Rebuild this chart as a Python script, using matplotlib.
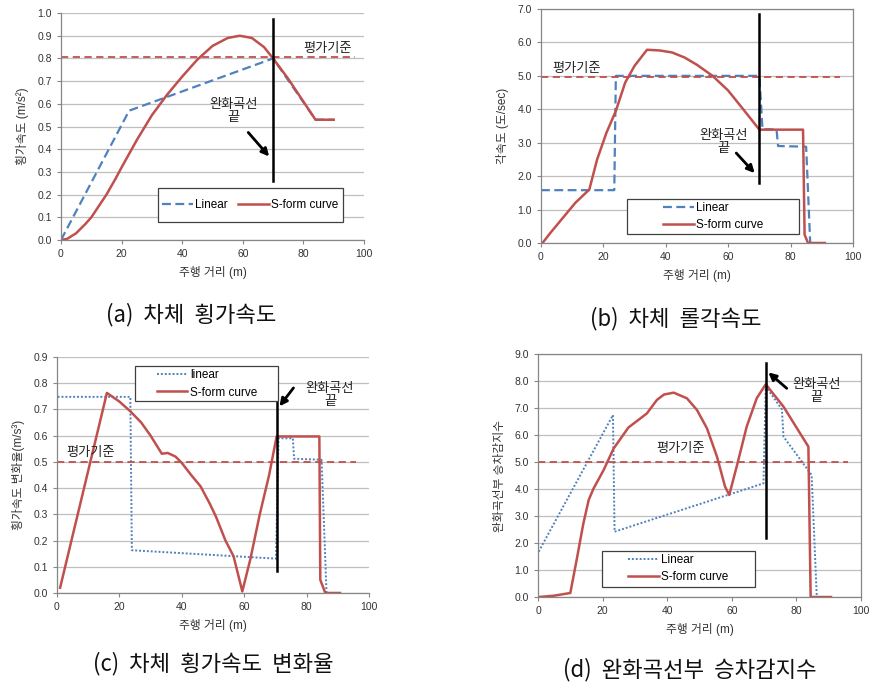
import numpy as np
import matplotlib
matplotlib.use('Agg')
import matplotlib.pyplot as plt
from matplotlib.patches import Rectangle

plt.rcParams['font.family'] = ['Liberation Sans', 'Noto Sans CJK KR', 'DejaVu Sans']
plt.rcParams['axes.unicode_minus'] = False

BLUE = '#4F81BD'
RED = '#C0504D'
GRID = '#BFBFBF'
AXC = '#868686'

# ---- (a) 차체 횡가속도
a_lin_x = [0, 22.5, 70, 84, 90]
a_lin_y = [0.0, 0.57, 0.80, 0.53, 0.53]
a_s_x = [0, 2, 5, 8, 10, 12, 15, 18, 20, 25, 30, 35, 40, 45, 50, 55, 59, 63, 67, 70, 75, 80, 84, 90]
a_s_y = [0.0, 0.005, 0.03, 0.07, 0.10, 0.14, 0.20, 0.27, 0.32, 0.44, 0.55, 0.64, 0.72, 0.795, 0.855, 0.89, 0.90, 0.89, 0.85, 0.80, 0.71, 0.61, 0.53, 0.53]
a_ref = 0.805

# ---- (b) 차체 롤각속도
b_lin_x = [0, 23.5, 24, 70, 71, 75.5, 76, 85, 86.3]
b_lin_y = [1.58, 1.58, 5.0, 5.0, 3.4, 3.4, 2.9, 2.88, 0.0]
b_s_x = [0.5, 3, 7, 11, 15.5, 18, 21, 24, 27, 30, 34, 38, 42, 46, 50, 55, 60, 65, 70, 84, 84.5, 85.6, 91]
b_s_y = [0.0, 0.3, 0.75, 1.2, 1.6, 2.5, 3.3, 3.95, 4.8, 5.3, 5.78, 5.76, 5.7, 5.55, 5.33, 5.0, 4.56, 3.98, 3.39, 3.39, 0.25, 0.0, 0.0]
b_ref = 4.97

# ---- (c) 차체 횡가속도 변화율
c_lin_x = [0.2, 23.5, 24, 70.2, 71, 75.6, 76, 84.8, 86.4]
c_lin_y = [0.748, 0.748, 0.163, 0.131, 0.59, 0.59, 0.512, 0.508, 0.0]
c_s_x = [1.0, 16, 20, 23.5, 27, 30, 33.6, 35.5, 38, 40, 43, 46, 49, 51, 54, 56.6, 59.4, 62, 65, 68, 70.4, 84.1, 84.4, 86, 90.7]
c_s_y = [0.02, 0.763, 0.73, 0.693, 0.65, 0.60, 0.531, 0.534, 0.52, 0.496, 0.45, 0.407, 0.34, 0.29, 0.20, 0.14, 0.006, 0.13, 0.30, 0.45, 0.597, 0.597, 0.05, 0.0, 0.0]
c_ref = 0.50

# ---- (d) 완화곡선부 승차감지수
d_lin_x = [0.2, 23.2, 23.7, 69.8, 70.5, 75.5, 76, 84.7, 86.3]
d_lin_y = [1.68, 6.74, 2.42, 4.21, 7.8, 6.95, 5.94, 4.52, 0.0]
d_s_x = [0.2, 5, 10, 12, 14, 15.7, 17.2, 20.3, 23.4, 28, 33.7, 36.8, 39, 42, 46.1, 49.2, 52.3, 55.4, 57.9, 59.2, 61.5, 64.6, 67.7, 70.5, 76, 83.7, 84.4, 90.7]
d_s_y = [0.0, 0.05, 0.15, 1.4, 2.7, 3.6, 4.02, 4.7, 5.5, 6.28, 6.8, 7.3, 7.5, 7.57, 7.36, 6.93, 6.25, 5.2, 4.09, 3.78, 4.83, 6.31, 7.36, 7.88, 7.05, 5.57, 0.0, 0.0]
d_ref = 5.0

xlabel = '주행 거리 (m)'

fig = plt.figure(figsize=(8.7, 6.86), dpi=100)


def style_axes(ax, ymax, ystep, frame):
    ax.set_xlim(0, 100)
    ax.set_ylim(0, ymax)
    ax.set_xticks(np.arange(0, 101, 20))
    ax.set_yticks(np.arange(0, ymax + 1e-9, ystep))
    ax.set_yticklabels([f'{v:.1f}' for v in np.arange(0, ymax + 1e-9, ystep)])
    ax.yaxis.grid(True, color=GRID, lw=0.9)
    ax.set_axisbelow(True)
    for s in ['left', 'bottom']:
        ax.spines[s].set_color(AXC)
        ax.spines[s].set_linewidth(0.9)
    for s in ['top', 'right']:
        ax.spines[s].set_visible(frame)
        ax.spines[s].set_color(AXC)
        ax.spines[s].set_linewidth(0.9)
    ax.tick_params(axis='both', colors=AXC, labelcolor='#333333', labelsize=7.5,
                   length=3, width=0.8)
    ax.set_xlabel(xlabel, fontsize=8.5, color='#333333', labelpad=5)


def add_end_note(ax, vx, v0, v1, tx, ty, ax0, ay0, ax1, ay1):
    ax.plot([vx, vx], [v0, v1], color='black', lw=1.8, zorder=5)
    ax.text(tx, ty, '완화곡선\n끝', ha='center', va='center', fontsize=9.5,
            linespacing=1.1, color='#222222')
    ax.annotate('', xy=(ax1, ay1), xytext=(ax0, ay0),
                arrowprops=dict(arrowstyle='-|>', color='black', lw=2.0,
                                mutation_scale=11, shrinkA=0, shrinkB=0),
                zorder=6)


def add_legend(ax, x0, x1, y0, y1, ncol):
    # Excel-style legend: wide square box with the entries centred inside
    ax.add_patch(Rectangle((x0, y0), x1 - x0, y1 - y0, transform=ax.transData,
                           facecolor='white', edgecolor='#404040', lw=0.9, zorder=7))
    xl, yl = ax.get_xlim(), ax.get_ylim()
    cx = ((x0 + x1) / 2 - xl[0]) / (xl[1] - xl[0])
    cy = ((y0 + y1) / 2 - yl[0]) / (yl[1] - yl[0])
    leg = ax.legend(loc='center', bbox_to_anchor=(cx, cy), ncol=ncol,
                    fontsize=8.5, handlelength=2.6, frameon=False,
                    columnspacing=0.9, handletextpad=0.2, labelspacing=0.45,
                    borderpad=0.2)
    leg.set_zorder(8)
    return leg


# (a)
ax = fig.add_axes([0.0701, 0.6501, 0.3483, 0.3309])
style_axes(ax, 1.0, 0.1, False)
ax.plot(a_lin_x, a_lin_y, color=BLUE, lw=1.6, ls=(0, (4, 2)), label='Linear')
ax.plot(a_s_x, a_s_y, color=RED, lw=1.8, label='S-form curve')
ax.plot([0, 97], [a_ref, a_ref], color=RED, lw=1.3, ls=(0, (4, 2.5)))
ax.text(88, 0.84, '평가기준', ha='center', va='center', fontsize=9.5, color='#222222')
add_end_note(ax, 70, 0.26, 0.975, 57, 0.565, 61.8, 0.474, 68.7, 0.368)
ax.set_ylabel('횡가속도 (m/s²)', fontsize=8.5, color='#333333', labelpad=6)
add_legend(ax, 32, 93, 0.08, 0.228, 2)

# (b)
ax = fig.add_axes([0.6218, 0.6458, 0.3586, 0.3411])
style_axes(ax, 7.0, 1.0, True)
ax.plot(b_lin_x, b_lin_y, color=BLUE, lw=1.6, ls=(0, (4, 2)), label='Linear')
ax.plot(b_s_x, b_s_y, color=RED, lw=1.8, label='S-form curve')
ax.plot([0, 96], [b_ref, b_ref], color=RED, lw=1.3, ls=(0, (4, 2.5)))
ax.text(11.4, 5.2, '평가기준', ha='center', va='center', fontsize=9.5, color='#222222')
add_end_note(ax, 70, 1.8, 6.85, 58.4, 3.0, 62.6, 2.69, 68.5, 2.09)
ax.set_ylabel('각속도 (도/sec)', fontsize=8.5, color='#333333', labelpad=6)
add_legend(ax, 27.6, 82.7, 0.27, 1.31, 1)

# (c)
ax = fig.add_axes([0.0655, 0.1356, 0.3586, 0.3440])
style_axes(ax, 0.9, 0.1, False)
ax.plot(c_lin_x, c_lin_y, color=BLUE, lw=1.4, ls=(0, (1, 1)), label='linear')
ax.plot(c_s_x, c_s_y, color=RED, lw=1.8, label='S-form curve')
ax.plot([0, 96], [c_ref, c_ref], color=RED, lw=1.3, ls=(0, (4, 2.5)))
ax.text(10.7, 0.534, '평가기준', ha='center', va='center', fontsize=9.5, color='#222222')
add_end_note(ax, 70.6, 0.085, 0.728, 87.5, 0.753, 75.8, 0.782, 71.3, 0.712)
ax.set_ylabel('횡가속도 변화율(m/s³)', fontsize=8.5, color='#333333', labelpad=6)
add_legend(ax, 25.1, 71, 0.731, 0.864, 1)

# (d)
ax = fig.add_axes([0.6184, 0.1297, 0.3713, 0.3542])
style_axes(ax, 9.0, 1.0, True)
ax.plot(d_lin_x, d_lin_y, color=BLUE, lw=1.4, ls=(0, (1, 1)), label='Linear')
ax.plot(d_s_x, d_s_y, color=RED, lw=1.8, label='S-form curve')
ax.plot([0, 96], [d_ref, d_ref], color=RED, lw=1.3, ls=(0, (4, 2.5)))
ax.text(44, 5.47, '평가기준', ha='center', va='center', fontsize=9.5, color='#222222')
add_end_note(ax, 70.5, 2.2, 8.65, 86.3, 7.6, 77, 7.73, 71.3, 8.32)
ax.set_ylabel('완화곡선부 승차감지수', fontsize=8.5, color='#333333', labelpad=6)
add_legend(ax, 19.8, 67.2, 0.38, 1.72, 1)

# captions
cap_kw = dict(ha='center', va='center', fontsize=16, color='#111111',
              family=['Noto Sans CJK KR', 'DejaVu Sans'])
fig.text(191 / 870, 1 - 315 / 686, '(a)  차체  횡가속도', **cap_kw)
fig.text(676 / 870, 1 - 319 / 686, '(b)  차체  롤각속도', **cap_kw)
fig.text(213 / 870, 1 - 664 / 686, '(c)  차체  횡가속도  변화율', **cap_kw)
fig.text(690 / 870, 1 - 670 / 686, '(d)  완화곡선부  승차감지수', **cap_kw)

fig.savefig('out.png', dpi=100)
